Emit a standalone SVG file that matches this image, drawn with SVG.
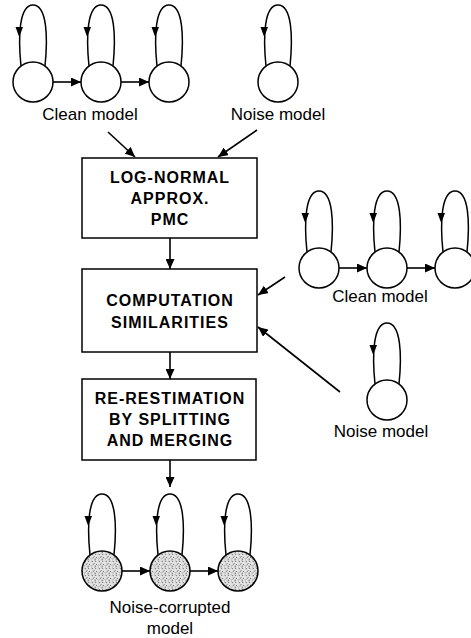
<svg xmlns="http://www.w3.org/2000/svg" xmlns:xlink="http://www.w3.org/1999/xlink" width="471" height="638" viewBox="0 0 471 638">
<style>
.st{fill:#fff;stroke:#000;stroke-width:1.5}
.sh{fill:url(#stip);stroke:#000;stroke-width:1.5}
.lp{fill:none;stroke:#000;stroke-width:1.5}
.ln{fill:none;stroke:#000;stroke-width:1.6;marker-end:url(#ah)}
.box{fill:#fff;stroke:#000;stroke-width:1.5}
.bt{font-family:"Liberation Sans",Arial,sans-serif;font-weight:bold;font-size:16px;letter-spacing:1px;text-anchor:middle;fill:#000}
.lb{font-family:"Liberation Sans",Arial,sans-serif;font-size:17px;text-anchor:middle;fill:#000}
</style>
<defs>
<marker id="ah" markerUnits="userSpaceOnUse" markerWidth="11" markerHeight="9" refX="10" refY="4.5" orient="auto">
<path d="M0,0 L10,4.5 L0,9 z" fill="#000"/>
</marker>
<pattern id="stip" width="7" height="7" patternUnits="userSpaceOnUse">
<rect width="7" height="7" fill="#e2e2e2"/>
<path d="M0.5,1 l1.5,1 M4,0.5 l1,1.5 M2,4.5 l1.5,-1 M5,4 l1.2,1.2 M0.5,6 l1,-0.8 M3.5,6.2 l1.5,0" stroke="#555" stroke-width="0.8"/>
</pattern>
<g id="loopg">
<path class="lp" d="M12,-16 C15,-45 14,-77 0,-77 C-14,-77 -15,-45 -12,-16"/>
<path d="M-17.5,-55 L-10,-55 L-13.8,-45 z" fill="#000"/>
</g>
</defs>

<g id="connectors">
<line class="ln" x1="108" y1="132" x2="135" y2="157"/>
<line class="ln" x1="257" y1="130" x2="218" y2="157"/>
<line class="ln" x1="170" y1="238" x2="170" y2="269"/>
<line class="ln" x1="285" y1="277" x2="258" y2="295"/>
<line class="ln" x1="340" y1="392" x2="258" y2="327"/>
<line class="ln" x1="170" y1="352" x2="170" y2="379"/>
<line class="ln" x1="170" y1="460" x2="170" y2="487"/>
</g>

<g id="clean-model-top">
<use xlink:href="#loopg" x="33" y="82"/>
<use xlink:href="#loopg" x="101" y="82"/>
<use xlink:href="#loopg" x="169" y="82"/>
<circle class="st" cx="33" cy="82" r="20"/>
<circle class="st" cx="101" cy="82" r="20"/>
<circle class="st" cx="169" cy="82" r="20"/>
<line class="ln" x1="53" y1="82" x2="81" y2="82"/>
<line class="ln" x1="121" y1="82" x2="149" y2="82"/>
<text class="lb" x="90" y="120">Clean model</text>
</g>

<g id="noise-model-top">
<use xlink:href="#loopg" x="278" y="82"/>
<circle class="st" cx="278" cy="82" r="20"/>
<text class="lb" x="278" y="120">Noise model</text>
</g>

<g id="box-lognormal">
<rect class="box" x="82" y="158" width="175" height="80"/>
<text class="bt" x="170" y="183">LOG-NORMAL</text>
<text class="bt" x="170" y="204">APPROX.</text>
<text class="bt" x="170" y="225">PMC</text>
</g>

<g id="box-computation">
<rect class="box" x="82" y="269" width="175" height="83"/>
<text class="bt" x="170" y="306">COMPUTATION</text>
<text class="bt" x="170" y="328">SIMILARITIES</text>
</g>

<g id="box-reestimation">
<rect class="box" x="82" y="379" width="174" height="81"/>
<text class="bt" x="170" y="404">RE-RESTIMATION</text>
<text class="bt" x="170" y="425">BY SPLITTING</text>
<text class="bt" x="170" y="446">AND MERGING</text>
</g>

<g id="clean-model-right">
<use xlink:href="#loopg" x="319" y="268"/>
<use xlink:href="#loopg" x="387" y="268"/>
<use xlink:href="#loopg" x="455" y="268"/>
<circle class="st" cx="319" cy="268" r="20"/>
<circle class="st" cx="387" cy="268" r="20"/>
<circle class="st" cx="455" cy="268" r="20"/>
<line class="ln" x1="339" y1="268" x2="367" y2="268"/>
<line class="ln" x1="407" y1="268" x2="435" y2="268"/>
<text class="lb" x="380" y="302">Clean model</text>
</g>

<g id="noise-model-right">
<use xlink:href="#loopg" x="387" y="400"/>
<circle class="st" cx="387" cy="400" r="20"/>
<text class="lb" x="381" y="437">Noise model</text>
</g>

<g id="noise-corrupted-model">
<use xlink:href="#loopg" x="102" y="571"/>
<use xlink:href="#loopg" x="170" y="571"/>
<use xlink:href="#loopg" x="238" y="571"/>
<circle class="sh" cx="102" cy="571" r="20"/>
<circle class="sh" cx="170" cy="571" r="20"/>
<circle class="sh" cx="238" cy="571" r="20"/>
<line class="ln" x1="122" y1="571" x2="150" y2="571"/>
<line class="ln" x1="190" y1="571" x2="218" y2="571"/>
<text class="lb" x="170" y="613">Noise-corrupted</text>
<text class="lb" x="170" y="634">model</text>
</g>
</svg>
